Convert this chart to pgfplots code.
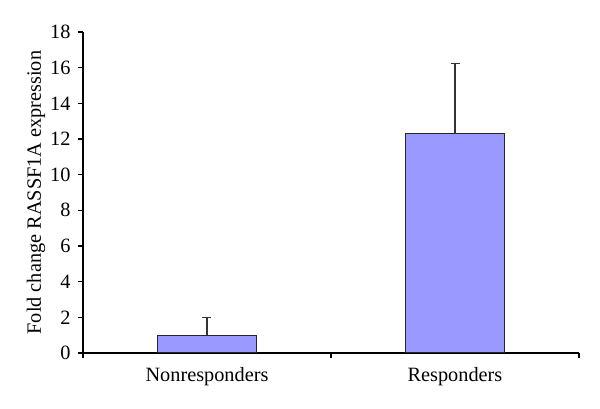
\documentclass[border=0pt]{standalone}
\usepackage{pgfplots}
\pgfplotsset{compat=1.18}
\usepackage{fontspec}
\setmainfont{Liberation Serif}
\newcommand\f{\fontsize{20.3}{24}\selectfont}
\definecolor{barblue}{HTML}{9999FF}
\definecolor{errgray}{HTML}{333333}
\begin{document}
\begin{tikzpicture}
\begin{axis}[
  name=ax,
  scale only axis,
  width=496pt, height=321pt,
  xmin=0, xmax=2, ymin=0, ymax=18,
  axis x line*=bottom, axis y line*=left,
  axis line style={line width=1.2pt, -},
  ytick={0,2,...,18},
  xtick={0,1,2}, xticklabels={},
  extra x ticks={0.5,1.5},
  extra x tick labels={Nonresponders,Responders},
  extra x tick style={major tick length=0pt, tick label style={yshift=-11pt}},
  yticklabel style={xshift=-4pt},
  tick align=outside,
  major tick length=5pt,
  tick style={line width=1.1pt, black},
  /pgf/number format/assume math mode=true,
  tick label style={font=\f},
  ylabel={Fold change RASSF1A expression},
  ylabel style={font=\f, yshift=-2pt},
  ybar, bar width=99pt,
]
\addplot[fill=barblue, draw=black!85, line width=1.2pt,
  error bars/.cd, y dir=plus, y explicit,
  error bar style={line width=1.2pt, errgray},
  error mark options={rotate=90, mark size=4.5pt, line width=1.2pt, errgray}]
  coordinates {(0.5,1.0) +- (0,1.0) (1.5,12.3) +- (0,3.95)};
\end{axis}
\pgfresetboundingbox
\path (ax.south west) ++(-83pt,-56pt) rectangle ++(600pt,409pt);
\end{tikzpicture}
\end{document}
